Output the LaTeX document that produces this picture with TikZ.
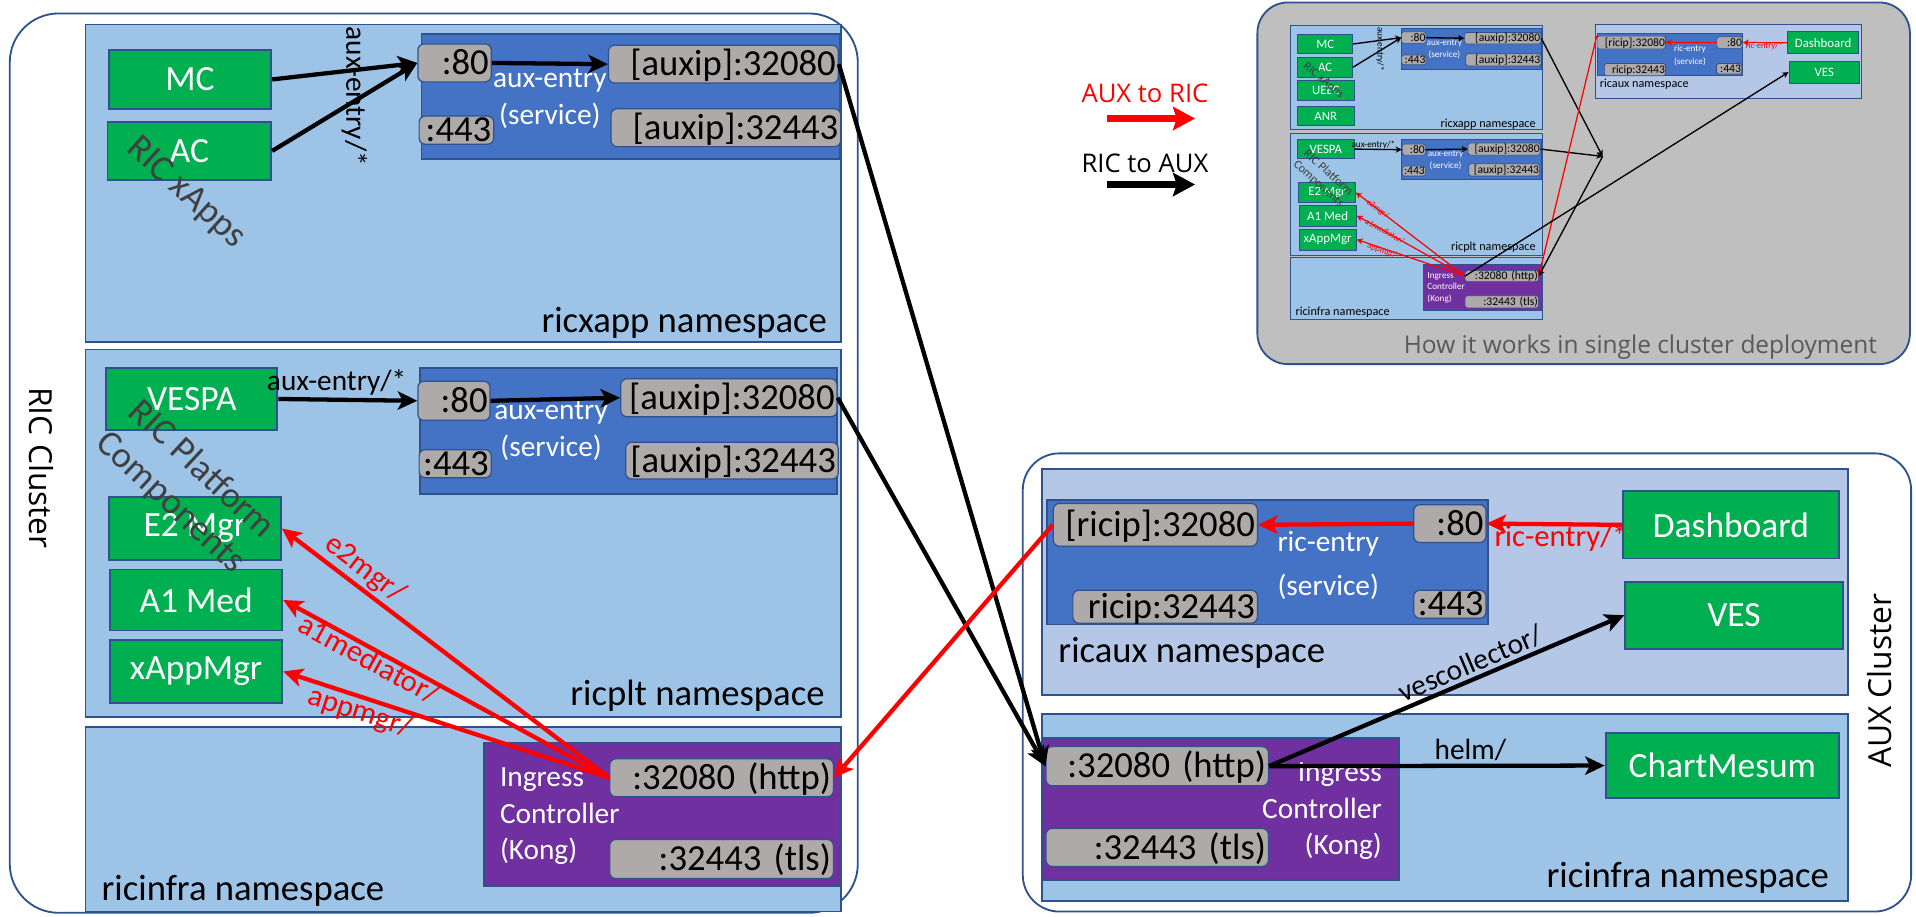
\documentclass[tikz,border=0pt]{standalone}
\usepackage{fontspec}
\setmainfont{Carlito}
\newfontfamily\segoe{Open Sans}
\usetikzlibrary{arrows.meta}
\definecolor{nsblue}{HTML}{9DC3E6}
\definecolor{auxblue}{HTML}{B4C7E7}
\definecolor{svcblue}{HTML}{4472C4}
\definecolor{portgrey}{HTML}{AEAAAA}
\definecolor{appgreen}{HTML}{00B050}
\definecolor{kongpurple}{HTML}{7030A0}
\definecolor{edgeblue}{HTML}{2F528F}
\definecolor{insetgrey}{HTML}{BFBFBF}
\definecolor{grpgrey}{HTML}{404040}
\definecolor{capgrey}{HTML}{595959}
\tikzset{
  wh/.style 2 args={minimum width=#1pt, minimum height=#2pt},
  clusterbox/.style={draw=edgeblue, fill=white, line width=1.5pt},
  nsbox/.style={draw=edgeblue, fill=nsblue, line width=1.5pt},
  svcbox/.style={draw=edgeblue, fill=svcblue, line width=1.5pt},
  kongbox/.style={draw=edgeblue, fill=kongpurple, line width=1.5pt},
  appbox/.style={draw=edgeblue, fill=appgreen, text=white, line width=1.5pt, inner sep=0pt, font=\fontsize{29}{35}\selectfont},
  portbox/.style 2 args={draw=edgeblue, fill=portgrey, rounded corners=5pt, line width=1pt, inner xsep=2pt, inner ysep=0pt, text width=#1pt, minimum height=#2pt, text height=19pt, text depth=0pt, align=right, font=\fontsize{30}{36}\selectfont},
  nslabel/.style={inner sep=0pt, font=\fontsize{30}{36}\selectfont},
  svclabel/.style={inner sep=0pt, text=white, align=center, font=\fontsize{24}{30}\selectfont},
  grplabel/.style={text=grpgrey, align=center, font=\fontsize{30}{37}\selectfont},
  arrlabel/.style={inner sep=2pt, font=\fontsize{24}{28}\selectfont},
  redlabel/.style={arrlabel, text=red, font=\fontsize{25}{29}\selectfont},
  blkarrow/.style={line width=3.5pt, -{Stealth[length=16pt, width=15pt, inset=4pt]}},
  redarrow/.style={blkarrow, draw=red},
  legarrow/.style={line width=5.5pt, -{Stealth[length=18pt, width=19pt, inset=3pt]}},
  % small copy in the grey box
  sns/.style={nsbox, line width=0.6pt},
  ssvc/.style={svcbox, line width=0.6pt},
  skong/.style={kongbox, line width=0.6pt},
  sapp/.style={appbox, line width=0.6pt, font=\fontsize{10.5}{12}\selectfont},
  sport/.style 2 args={portbox={#1}{#2}, line width=0.5pt, rounded corners=1.5pt, inner xsep=0.5pt, text height=6pt, font=\fontsize{9.5}{11}\selectfont},
  snslabel/.style={nslabel, font=\fontsize{10}{12}\selectfont},
  ssvclabel/.style={svclabel, font=\fontsize{7.5}{9.5}\selectfont},
  sgrp/.style={grplabel, font=\fontsize{10}{12}\selectfont},
  sarrlabel/.style={inner sep=0.5pt, font=\fontsize{7.5}{9}\selectfont},
  sredlabel/.style={sarrlabel, text=red, font=\fontsize{7}{8.5}\selectfont},
  sblk/.style={line width=1.1pt, -{Stealth[length=5pt, width=5pt, inset=1.5pt]}},
  sred/.style={sblk, draw=red, line width=1pt},
}

\begin{document}
\begin{tikzpicture}[x=1pt, y=-1pt]
  \useasboundingbox (0,0) rectangle (1568,750);
  \fill[white] (0,0) rectangle (1568,750);

  % RIC cluster
  \draw[clusterbox, rounded corners=40pt] (8,11) rectangle (702,747);
  \node[font=\segoe\fontsize{26}{30}\selectfont, rotate=-90] (ricclu) at (34,383) {RIC Cluster};
  \filldraw[nsbox] (70,20) rectangle (688,280);
  \filldraw[nsbox] (70,286) rectangle (688,587);
  \filldraw[nsbox] (70,595) rectangle (688,746);
  \filldraw[svcbox] (345,28) rectangle (687,130);
  \filldraw[svcbox] (344,301) rectangle (685,404);
  \filldraw[kongbox] (396,608) rectangle (687,725);

  % AUX cluster
  \draw[clusterbox, rounded corners=30pt] (837,371) rectangle (1564,746);
  \node[font=\segoe\fontsize{26}{30}\selectfont, rotate=90] (auxclu) at (1538,557) {AUX Cluster};
  \filldraw[nsbox, fill=auxblue] (853,384) rectangle (1512,569);
  \filldraw[nsbox] (853,584) rectangle (1512,737);
  \filldraw[svcbox] (857,409) rectangle (1218,511);
  \filldraw[kongbox] (854,604) rectangle (1145,720);

  % apps
  \node[appbox, wh={133}{48}] (mc) at (155.5,65) {MC};
  \node[appbox, wh={134}{47}] (ac) at (155,123.5) {AC};
  \node[appbox, wh={140}{51}] (vespa) at (157,326.5) {VESPA};
  \node[appbox, wh={141}{51}] (e2) at (159.5,432.5) {E2 Mgr};
  \node[appbox, wh={141}{50}] (a1) at (160.5,491) {A1 Med};
  \node[appbox, wh={141}{51}] (xapp) at (160.5,549.5) {xAppMgr};
  \node[appbox, wh={177}{55}] (dash) at (1416.5,429.5) {Dashboard};
  \node[appbox, wh={178}{55}] (ves) at (1419,503.5) {VES};
  \node[appbox, wh={191}{53}] (chart) at (1409.5,626.5) {ChartMesum};

  % ports
  \node[portbox={56}{31}] (p80a) at (372,51.5) {:80};
  \node[portbox={184}{31}] (ipa80) at (592,52.5) {[auxip]:32080};
  \node[portbox={57}{23}] (p443a) at (373.5,106.5) {:443};
  \node[portbox={184}{31}] (ipa443) at (594,104.5) {[auxip]:32443};
  \node[portbox={55}{32}] (p80b) at (371.5,328) {:80};
  \node[portbox={173}{31}] (ipb80) at (596.5,325.5) {[auxip]:32080};
  \node[portbox={55}{23}] (p443b) at (372.5,379.5) {:443};
  \node[portbox={170}{30}] (ipb443) at (599,377) {[auxip]:32443};
  \node[portbox={179}{31}] (rhttp) at (590.5,636.5) {:32080 (http)};
  \node[portbox={179}{32}] (rtls) at (590.5,703) {:32443 (tls)};
  \node[portbox={163}{35}] (ric80) at (945.5,429.5) {[ricip]:32080};
  \node[portbox={55}{31}] (p80c) at (1186.5,428.5) {:80};
  \node[portbox={147}{27}] (ric443) at (953.5,496.5) {ricip:32443};
  \node[portbox={55}{23}] (p443c) at (1186.5,494.5) {:443};
  \node[portbox={178}{32}] (ahttp) at (947,627) {:32080 (http)};
  \node[portbox={178}{31}] (atls) at (947,693.5) {:32443 (tls)};

  % texts in the boxes
  \node[svclabel] (svcA) at (450,81) {aux-entry\\(service)};
  \node[svclabel] (svcB) at (451,352.5) {aux-entry\\(service)};
  \node[svclabel, font=\fontsize{24}{36}\selectfont] (svcC) at (1087,463) {ric-entry\\(service)};
  \node[svclabel, anchor=west, align=left] (kongRtxt) at (409,668) {Ingress\\Controller\\(Kong)};
  \node[svclabel, anchor=east, align=right] (kongAtxt) at (1131,664) {Ingress\\Controller\\(Kong)};
  \node[nslabel, anchor=base east] (nsxapp) at (677,272) {ricxapp namespace};
  \node[nslabel, anchor=base east] (nsplt) at (675,577) {ricplt namespace};
  \node[nslabel, anchor=base west] (nsinfraR) at (83,737) {ricinfra namespace};
  \node[nslabel, anchor=base west] (nsaux) at (866,542) {ricaux namespace};
  \node[nslabel, anchor=base east] (nsinfraA) at (1497,726) {ricinfra namespace};

  % RIC to AUX
  \draw[blkarrow] (mc.east) -- (p80a.west);
  \draw[blkarrow] (ac.east) -- (p80a.west);
  \node[arrlabel, rotate=-90] (auxlblA) at (290,79) {aux-entry/*};
  \draw[blkarrow] (p80a.east) -- (ipa80.west);
  \draw[blkarrow] (vespa.east) -- node[arrlabel, above, pos=0.42] {aux-entry/*} (p80b.west);
  \draw[blkarrow] (p80b.east) -- (ipb80.west);
  \draw[blkarrow] (ipa80.east) -- (ahttp.west);
  \draw[blkarrow] (ipb80.east) -- (ahttp.west);
  \draw[blkarrow] (ahttp.east) -- node[arrlabel, sloped, above, pos=0.585] {vescollector/} (ves.west);
  \draw[blkarrow] (ahttp.east) -- node[arrlabel, above, pos=0.6] {helm/} (chart.west);

  % AUX to RIC
  \draw[redarrow] (rhttp.west) -- node[redlabel, sloped, above, pos=0.78] {e2mgr/} (e2.east);
  \draw[redarrow] (rhttp.west) -- node[redlabel, sloped, below=-4pt, pos=0.72] {a1mediator/} (a1.east);
  \draw[redarrow] (rhttp.west) -- node[redlabel, sloped, below=-2pt, pos=0.75] {appmgr/} (xapp.east);
  \draw[redarrow] (ric80.west) -- (rhttp.east);
  \draw[redarrow] (dash.west) -- node[redlabel, below=-3pt, pos=0.45] {ric-entry/*} (p80c.east);
  \draw[redarrow] (p80c.west) -- (ric80.east);

  \node[grplabel, rotate=-42] (xappgrp) at (152,158) {RIC xApps};
  \node[grplabel, rotate=-43] (pltgrp) at (152,398) {RIC Platform\\Components};

  % legend
  \node[font=\segoe\fontsize{21}{25}\selectfont, text=red] (legred) at (937,76) {AUX to RIC};
  \coordinate (legredA) at (906,97);
  \coordinate (legredB) at (978,97);
  \draw[legarrow, draw=red] (legredA) -- (legredB);
  \node[font=\segoe\fontsize{21}{25}\selectfont] (legblk) at (937,134) {RIC to AUX};
  \coordinate (legblkA) at (906,151);
  \coordinate (legblkB) at (978,151);
  \draw[legarrow] (legblkA) -- (legblkB);

  % single cluster picture
  \filldraw[draw=edgeblue, fill=insetgrey, line width=1.5pt, rounded corners=25pt] (1029,2) rectangle (1563,298);
  \filldraw[sns] (1056,20.5) rectangle (1262,106);
  \filldraw[sns] (1056,109) rectangle (1262,209);
  \filldraw[sns] (1056,211) rectangle (1262,261);
  \filldraw[sns, fill=auxblue] (1305.6,20) rectangle (1523.5,80.5);
  \filldraw[ssvc] (1147,23) rectangle (1261,57);
  \filldraw[ssvc] (1147,114) rectangle (1261,147);
  \filldraw[ssvc] (1307,27) rectangle (1426,62);
  \filldraw[skong] (1165,216) rectangle (1262,254);

  \node[sapp, wh={45}{16}] (smc) at (1084.5,36) {MC};
  \node[sapp, wh={45}{16}] (sac) at (1084.5,55) {AC};
  \node[sapp, wh={46}{16}] (sue) at (1085,74) {UEEC};
  \node[sapp, wh={46}{16}] (sanr) at (1085,95) {ANR};
  \node[sapp, wh={46}{16}] (svespa) at (1085,122) {VESPA};
  \node[sapp, wh={46.5}{16.5}] (se2) at (1086,157.5) {E2 Mgr};
  \node[sapp, wh={47}{17}] (sa1) at (1086.5,176.5) {A1 Med};
  \node[sapp, wh={47}{17}] (sxapp) at (1086.5,196) {xAppMgr};
  \node[sapp, wh={58}{18}] (sdash) at (1492,35) {Dashboard};
  \node[sapp, wh={58}{18}] (sves) at (1493,59) {VES};

  \node[sport={19}{9.5}] (sp80a) at (1157,30.8) {:80};
  \node[sport={61.5}{9.5}] (sipa80) at (1229.8,31.3) {[auxip]:32080};
  \node[sport={19}{8}] (sp443a) at (1157,49) {:443};
  \node[sport={60.5}{10}] (sipa443) at (1230.3,49) {[auxip]:32443};
  \node[sport={18}{9}] (sp80b) at (1157,122.5) {:80};
  \node[sport={58}{10}] (sipb80) at (1231,122) {[auxip]:32080};
  \node[sport={18}{8}] (sp443b) at (1157,140) {:443};
  \node[sport={57}{10}] (sipb443) at (1231,139) {[auxip]:32443};
  \node[sport={59}{9}] (shttp) at (1229,226) {:32080 (http)};
  \node[sport={59}{10}] (stls) at (1229,247) {:32443 (tls)};
  \node[sport={55}{10.5}] (sric80) at (1335,34.8) {[ricip]:32080};
  \node[sport={20}{9.5}] (sp80c) at (1415.5,34.8) {:80};
  \node[sport={49}{10}] (sric443) at (1338,57) {ricip:32443};
  \node[sport={19.5}{8.6}] (sp443c) at (1415,56.3) {:443};

  \node[ssvclabel] (ssvcA) at (1182,40.5) {aux-entry\\(service)};
  \node[ssvclabel] (ssvcB) at (1183,131) {aux-entry\\(service)};
  \node[ssvclabel, font=\fontsize{7.5}{11}\selectfont] (ssvcC) at (1383,45.5) {ric-entry\\(service)};
  \node[ssvclabel, anchor=west, align=left] (skongtxt) at (1168,235.5) {Ingress\\Controller\\(Kong)};
  \node[snslabel, anchor=base east] (snsxapp) at (1257,104) {ricxapp namespace};
  \node[snslabel, anchor=base east] (snsplt) at (1257,205) {ricplt namespace};
  \node[snslabel, anchor=base west] (snsinfra) at (1060,258) {ricinfra namespace};
  \node[snslabel, anchor=base west] (snsaux) at (1309,72) {ricaux namespace};

  \draw[sblk] (smc.east) -- (sp80a.west);
  \draw[sblk] (sac.east) -- (sp80a.west);
  \node[sarrlabel, rotate=-90] (sauxlbl) at (1129.5,40) {aux-entry/*};
  \draw[sblk] (sp80a.east) -- (sipa80.west);
  \draw[sblk] (svespa.east) -- node[sarrlabel, above=-1pt, pos=0.4] {aux-entry/*} (sp80b.west);
  \draw[sblk] (sp80b.east) -- (sipb80.west);
  \coordinate (sjoin) at (1311.5,128);
  \draw[sblk] (sipa80.east) -- (sjoin);
  \draw[sblk] (sipb80.east) -- (sjoin);
  \draw[sred] (sric80.north west) -- (shttp.east);
  \draw[sblk] (sjoin) -- (shttp.east);
  \draw[sred] (shttp.west) -- node[sredlabel, sloped, pos=0.8] {e2mgr/} (se2.east);
  \draw[sred] (shttp.west) -- node[sredlabel, sloped, pos=0.74] {a1mediator/} (sa1.east);
  \draw[sred] (shttp.west) -- node[sredlabel, sloped, below=-2pt, pos=0.76] {appmgr/} (sxapp.east);
  \draw[sblk] (shttp.west) -- (sves.west);
  \draw[sred] (sdash.west) -- node[sredlabel, below=-1pt, pos=0.52] {ric-entry/*} (sp80c.east);
  \draw[sred] (sp80c.west) -- (sric80.east);

  \node[sgrp, rotate=-40] (sxappgrp) at (1083,66) {RIC xApps};
  \node[sgrp, rotate=-42] (spltgrp) at (1083,146) {RIC Platform\\Components};
  \node[font=\segoe\fontsize{20}{24}\selectfont, text=capgrey] (caption) at (1342.5,284) {How it works in single cluster deployment};
\end{tikzpicture}
\end{document}
